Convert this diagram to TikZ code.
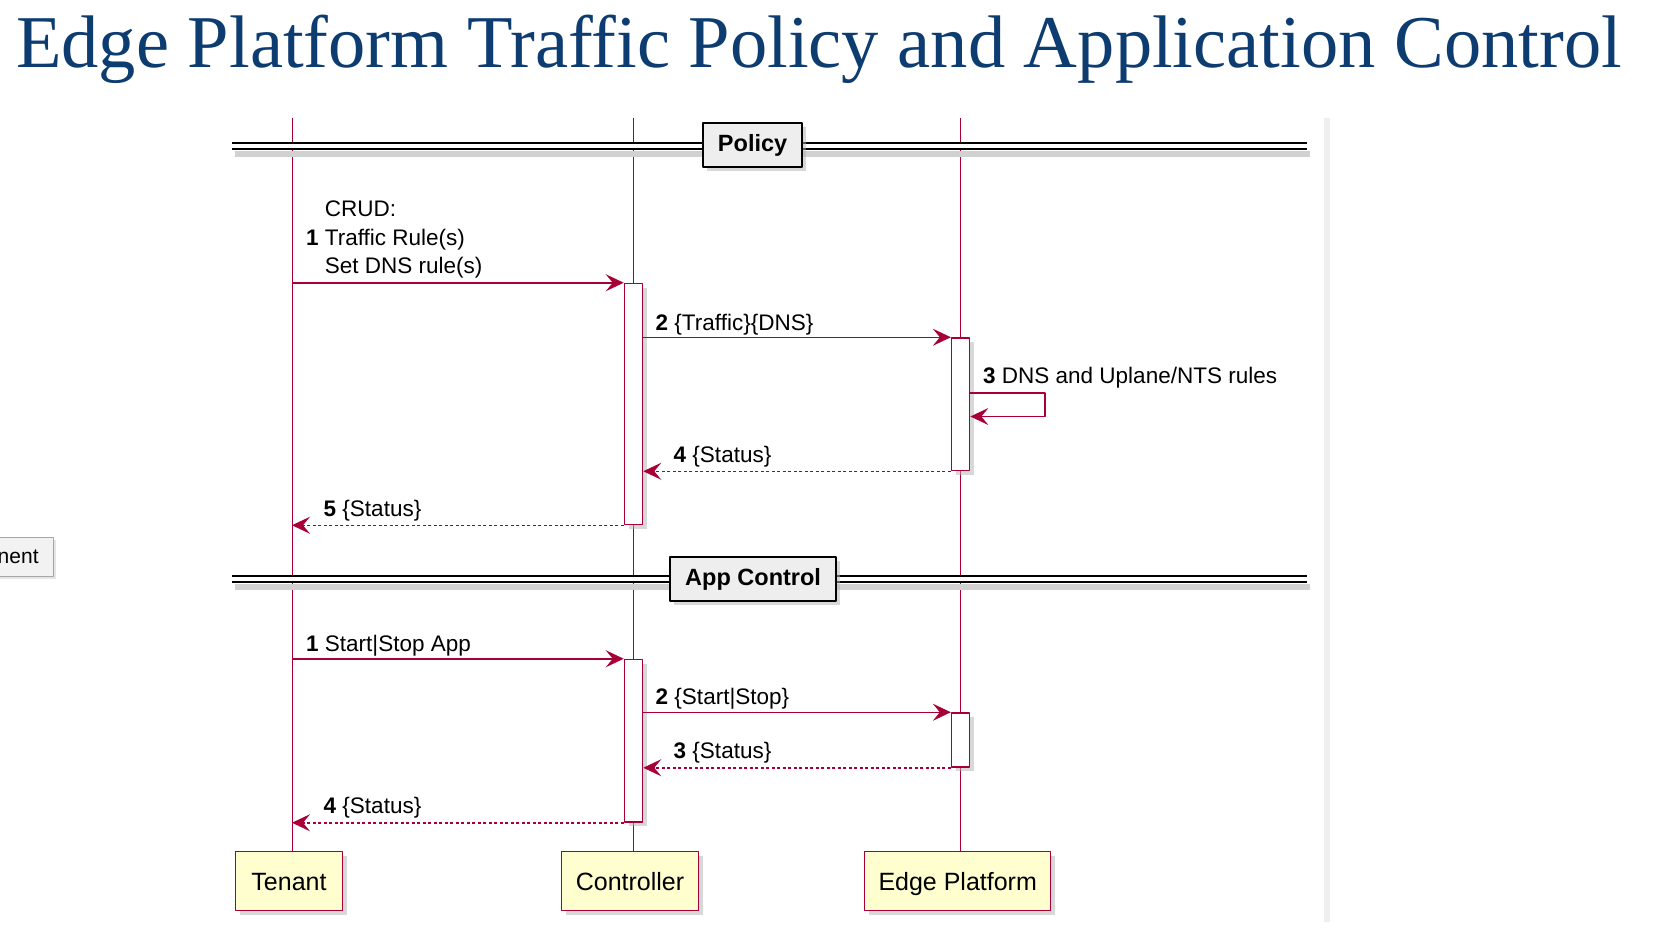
\documentclass[tikz,border=0pt]{standalone}
\usepackage{fontspec}
\setmainfont{Liberation Serif}
\newfontfamily\umlfont{Liberation Sans}
\usetikzlibrary{arrows.meta,shadows}
\definecolor{umlred}{HTML}{A80036}
\definecolor{umlyellow}{HTML}{FEFECE}
\definecolor{titleblue}{HTML}{0D3C71}
\definecolor{divgray}{HTML}{EEEEEE}
\definecolor{framegray}{HTML}{EFEFEF}
\begin{document}
\begin{tikzpicture}[x=1pt, y=-1pt, line join=round,
    life/.style={umlred, line width=1pt},
    msg/.style={umlred, line width=1.5pt, -{Stealth[length=18pt,width=17pt,inset=7pt]}},
    reply/.style={msg, dash pattern=on 3pt off 2.5pt},
    lbl/.style={anchor=base west, inner sep=0pt, font=\umlfont\fontsize{22.5}{28.3}\selectfont},
    part/.style={draw=umlred, line width=1.5pt, fill=umlyellow, minimum height=59pt,
        text height=19pt, text depth=0pt,
        font=\umlfont\fontsize{25}{30}\selectfont,
        drop shadow={shadow xshift=4pt, shadow yshift=-4pt, fill=black!30}},
    act/.style={draw=umlred, line width=1.5pt, fill=white, minimum width=18pt, inner sep=0pt,
        drop shadow={shadow xshift=4pt, shadow yshift=-4pt, fill=black!30}},
    divbox/.style={draw=black, line width=2.5pt, fill=divgray, minimum height=44pt, inner xsep=15pt,
        font=\umlfont\bfseries\fontsize{23.5}{28}\selectfont,
        drop shadow={shadow xshift=4pt, shadow yshift=-4pt, fill=black!30}},
    divline/.style={black, line width=2pt, double=white, double distance=4pt},
    divshadow/.style={black!18, line width=6pt}]
    \useasboundingbox (0,0) rectangle (1668,950);
    % --- タイトル ---
    \node[anchor=base west, inner sep=0pt, text=titleblue, font=\fontsize{74.5}{80}\selectfont]
        (title) at (16,67) {Edge Platform Traffic Policy and Application Control};
    % 右側の灰色の枠線
    \fill[framegray] (1324,118) rectangle (1330,922);
    % 左端の切れたボタン
    \node[draw=black!35, line width=0.8pt, fill=black!5, anchor=east, inner xsep=15pt, minimum height=39pt,
        font=\umlfont\fontsize{21}{25}\selectfont, drop shadow={shadow xshift=2pt, shadow yshift=-3pt, fill=black!20}]
        (tip) at (54,556.5) {nent};
    % --- 参加者 ---
    \node[part, minimum width=107pt] (tenant) at (289,881) {Tenant};
    \node[part, minimum width=137pt] (ctrl) at (630,881) {Controller};
    \node[part, minimum width=186pt] (edge) at (957.7,881) {Edge Platform};
    % --- 生存線 ---
    \coordinate (tenantTop) at (292,118);
    \coordinate (ctrlTop) at (633.5,118);
    \coordinate (edgeTop) at (960.6,118);
    \draw[life] (tenantTop) -- (tenantTop |- tenant.north);
    \draw[life] (ctrlTop) -- (ctrlTop |- ctrl.north);
    \draw[life] (edgeTop) -- (edgeTop |- edge.north);
    % --- 区切り線(Policy) ---
    \coordinate (divPolicyL) at (232,146);
    \coordinate (divPolicyR) at (1306.7,146);
    \draw[divshadow] ([shift={(3,8)}]divPolicyL) -- ([shift={(3,8)}]divPolicyR);
    \draw[divline] (divPolicyL) -- (divPolicyR);
    \node[divbox] (divPolicy) at (752.6,145) {Policy};
    % --- 区切り線(App Control) ---
    \coordinate (divAppL) at (232,579);
    \coordinate (divAppR) at (1306.7,579);
    \draw[divshadow] ([shift={(3,8)}]divAppL) -- ([shift={(3,8)}]divAppR);
    \draw[divline] (divAppL) -- (divAppR);
    \node[divbox] (divApp) at (753.1,579) {App Control};
    % --- 活性化バー ---
    \node[act, minimum height=241pt] (actC1) at (633.5,404) {};
    \node[act, minimum height=132.5pt] (actE1) at (960.6,404.25) {};
    \node[act, minimum height=162.5pt] (actC2) at (633.5,740.75) {};
    \node[act, minimum height=54pt] (actE2) at (960.6,740) {};
    % --- メッセージ(Policy) ---
    \draw[msg] (actC1.north west -| tenantTop) -- (actC1.north west);
    \node[lbl] (p1lbl) at (306,273.3) {\begin{tabular}[b]{@{}l@{}}\phantom{\textbf{1} }CRUD:\\\textbf{1} Traffic Rule(s)\\\phantom{\textbf{1} }Set DNS rule(s)\end{tabular}};
    \draw[msg] (actC1.east |- actE1.north) -- (actE1.north west);
    \node[lbl] (p2lbl) at (655.5,330) {\textbf{2} \{Traffic\}\{DNS\}};
    % 自己メッセージ
    \coordinate (selfA) at (1045,393);
    \coordinate (selfB) at (1045,416.5);
    \draw[msg] (actE1.east |- selfA) -- (selfA) -- (selfB) -- (actE1.east |- selfB);
    \node[lbl] (p3lbl) at (983,383) {\textbf{3} DNS and Uplane/NTS rules};
    \draw[reply] (actE1.south west) -- (actC1.east |- actE1.south);
    \node[lbl] (p4lbl) at (673.5,462) {\textbf{4} \{Status\}};
    \draw[reply] (actC1.south west) -- (actC1.south west -| tenantTop);
    \node[lbl] (p5lbl) at (323.5,516) {\textbf{5} \{Status\}};
    % --- メッセージ(App Control) ---
    \draw[msg] (actC2.north west -| tenantTop) -- (actC2.north west);
    \node[lbl] (a1lbl) at (306,651) {\textbf{1} Start|Stop App};
    \draw[msg] (actC2.east |- actE2.north) -- (actE2.north west);
    \node[lbl] (a2lbl) at (655.5,704.5) {\textbf{2} \{Start|Stop\}};
    \draw[reply] (actE2.south west) -- (actC2.east |- actE2.south);
    \node[lbl] (a3lbl) at (673.5,758.5) {\textbf{3} \{Status\}};
    \draw[reply] (actC2.south west) -- (actC2.south west -| tenantTop);
    \node[lbl] (a4lbl) at (323.5,813.5) {\textbf{4} \{Status\}};
\end{tikzpicture}
\end{document}
